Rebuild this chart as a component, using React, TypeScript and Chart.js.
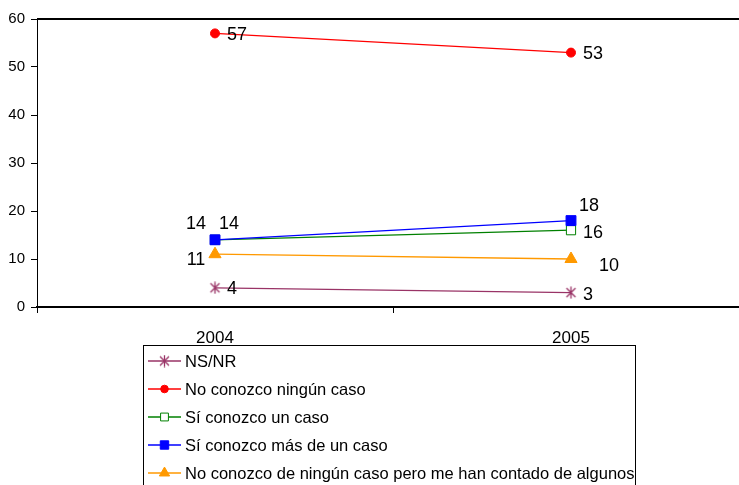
import { useEffect, useRef } from "react";
import { Chart, registerables } from "chart.js";

Chart.register(...registerables);

const years = ["2004", "2005"];
const seriesLabels = [
  "NS/NR",
  "No conozco ningún caso",
  "Sí conozco un caso",
  "Sí conozco más de un caso",
  "No conozco de ningún caso pero me han contado de algunos",
];
const nsnr = [4, 3];
const noConozco = [57, 53];
const unCaso = [14, 16];
const masDeUno = [14, 18];
const meHanContado = [11, 10];
const yMin = 0;
const yMax = 60;
const yStep = 10;

const FONT = "'Liberation Sans', Arial, sans-serif";

const seriesStyles = [
  { color: "#993366", point: "asterisk", radius: 6, fill: "#993366" },
  { color: "#FF0000", point: "circle", radius: 4.5, fill: "#FF0000" },
  { color: "#008000", point: "rect", radius: 6.5, fill: "#FFFFFF" },
  { color: "#0000FF", point: "rect", radius: 7, fill: "#0000FF" },
  { color: "#FF9900", point: "triangle", radius: 7, fill: "#FF9900" },
];

// label offsets (dx, dy) relative to each point, per series
const labelOffsets = [
  [[17, 0], [17, 1]],
  [[22, 1], [22, 0]],
  [[-19, -17], [22, 1.5]],
  [[14, -17], [18, -16]],
  [[-19, 5], [38, 6]],
];

function makeAsterisk(color: string) {
  const c = document.createElement("canvas");
  c.width = 13;
  c.height = 13;
  const g = c.getContext("2d")!;
  g.strokeStyle = color;
  g.lineWidth = 1.3;
  g.beginPath();
  g.moveTo(2, 2);
  g.lineTo(11, 11);
  g.moveTo(11, 2);
  g.lineTo(2, 11);
  g.moveTo(6.5, 0.5);
  g.lineTo(6.5, 12.5);
  g.stroke();
  return c;
}

function drawMarker(ctx: CanvasRenderingContext2D, st: any, x: number, y: number, img: HTMLCanvasElement | null) {
  ctx.save();
  ctx.fillStyle = st.fill;
  ctx.strokeStyle = st.color;
  ctx.lineWidth = 1;
  if (st.point === "asterisk" && img) {
    ctx.drawImage(img, x - img.width / 2, y - img.height / 2);
  } else if (st.point === "circle") {
    ctx.beginPath();
    ctx.arc(x, y, st.radius, 0, Math.PI * 2);
    ctx.fill();
    ctx.stroke();
  } else if (st.point === "rect") {
    const s = Math.SQRT1_2 * st.radius;
    ctx.beginPath();
    ctx.rect(x - s, y - s, 2 * s, 2 * s);
    ctx.fill();
    ctx.stroke();
  } else if (st.point === "triangle") {
    const r = st.radius;
    ctx.beginPath();
    ctx.moveTo(x, y - r);
    ctx.lineTo(x + r * Math.sin(Math.PI / 3), y + r * 0.5);
    ctx.lineTo(x - r * Math.sin(Math.PI / 3), y + r * 0.5);
    ctx.closePath();
    ctx.fill();
    ctx.stroke();
  }
  ctx.restore();
}

export default function App() {
  const ref = useRef<HTMLCanvasElement>(null);

  useEffect(() => {
    if (!ref.current) return;
    const values = [nsnr, noConozco, unCaso, masDeUno, meHanContado];
    const asterisk = makeAsterisk(seriesStyles[0].color);

    const datasets = values.map((v, i) => {
      const st = seriesStyles[i];
      return {
        label: seriesLabels[i],
        data: v,
        borderColor: st.color,
        backgroundColor: st.fill,
        borderWidth: 1.3,
        pointStyle: st.point === "asterisk" ? (asterisk as any) : st.point,
        pointRadius: st.radius,
        pointBorderColor: st.color,
        pointBackgroundColor: st.fill,
        pointBorderWidth: 1,
        tension: 0,
        order: 4 - i,
      };
    });

    const borderPlugin = {
      id: "topBorder",
      afterDraw(chart: any) {
        const { ctx, chartArea } = chart;
        ctx.save();
        ctx.strokeStyle = "#000";
        ctx.lineWidth = 2;
        ctx.beginPath();
        ctx.moveTo(chartArea.left, chartArea.top);
        ctx.lineTo(chartArea.right + 5, chartArea.top);
        ctx.stroke();
        ctx.restore();
      },
    };

    const labelsPlugin = {
      id: "valueLabels",
      afterDatasetsDraw(chart: any) {
        const ctx = chart.ctx;
        ctx.save();
        ctx.font = `18px ${FONT}`;
        ctx.fillStyle = "#000";
        ctx.textAlign = "center";
        ctx.textBaseline = "middle";
        chart.data.datasets.forEach((ds: any, i: number) => {
          const meta = chart.getDatasetMeta(i);
          meta.data.forEach((el: any, j: number) => {
            const [dx, dy] = labelOffsets[i][j];
            ctx.fillText(String(ds.data[j]), el.x + dx, el.y + dy + 1);
          });
        });
        ctx.restore();
      },
    };

    const legendPlugin = {
      id: "boxLegend",
      afterDraw(chart: any) {
        const ctx = chart.ctx;
        ctx.save();
        ctx.strokeStyle = "#000";
        ctx.lineWidth = 1;
        ctx.strokeRect(143.5, 345.5, 492, 200);
        ctx.font = `16.5px ${FONT}`;
        ctx.fillStyle = "#000";
        ctx.textAlign = "left";
        ctx.textBaseline = "middle";
        chart.data.datasets.forEach((ds: any, i: number) => {
          const st = seriesStyles[i];
          const y = 361 + i * 28;
          ctx.strokeStyle = st.color;
          ctx.lineWidth = 1.3;
          ctx.beginPath();
          ctx.moveTo(148, y);
          ctx.lineTo(181, y);
          ctx.stroke();
          drawMarker(ctx, { ...st, radius: st.radius * 0.85 }, 164.5, y, asterisk);
          ctx.fillStyle = "#000";
          ctx.fillText(ds.label, 185, y + 1);
        });
        ctx.restore();
      },
    };

    const chart = new Chart(ref.current, {
      type: "line",
      data: { labels: years, datasets: datasets as any },
      options: {
        animation: false,
        responsive: false,
        maintainAspectRatio: false,
        layout: { padding: { top: 19, left: 0, right: 0, bottom: 0 } },
        plugins: {
          legend: { display: false },
          tooltip: { enabled: false },
          title: { display: false },
        },
        scales: {
          x: {
            type: "category",
            offset: true,
            grid: {
              offset: true,
              drawOnChartArea: false,
              color: "#000",
              tickLength: 6,
            },
            border: { color: "#000", width: 2 },
            ticks: {
              color: "#000",
              font: { family: FONT, size: 17 },
              padding: 15,
            },
            afterFit(scale: any) {
              scale.height = 178;
            },
          },
          y: {
            min: yMin,
            max: yMax,
            ticks: {
              stepSize: yStep,
              color: "#000",
              font: { family: FONT, size: 15 },
              padding: 6,
            },
            grid: {
              drawOnChartArea: false,
              color: "#000",
              tickLength: 6,
            },
            border: { color: "#000", width: 1 },
            afterFit(scale: any) {
              scale.width = 37;
            },
          },
        },
      },
      plugins: [borderPlugin, labelsPlugin, legendPlugin],
    });

    return () => chart.destroy();
  }, []);

  return (
    <div
      style={{
        position: "absolute",
        left: 0,
        top: 0,
        width: 739,
        height: 485,
        overflow: "hidden",
        background: "#fff",
      }}
    >
      <canvas ref={ref} width={757} height={485} style={{ display: "block", width: 757, height: 485 }} />
    </div>
  );
}
